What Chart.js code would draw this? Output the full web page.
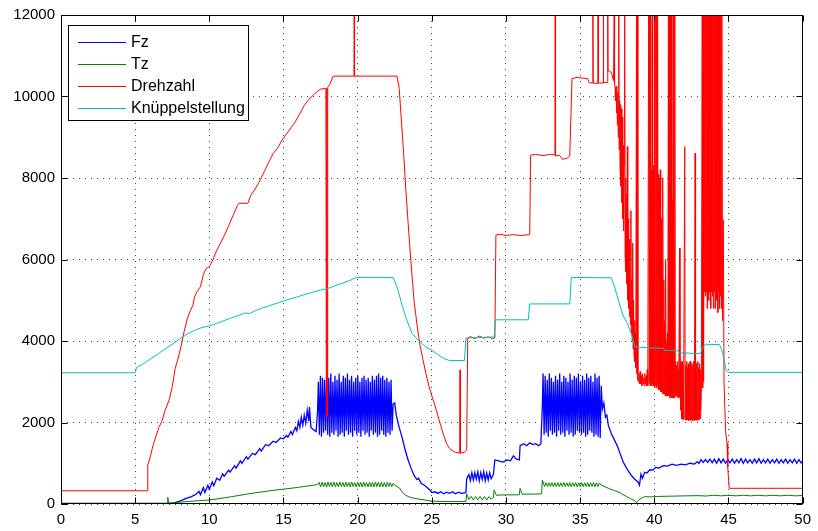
<!DOCTYPE html>
<html>
<head>
<meta charset="utf-8">
<script src="https://cdn.jsdelivr.net/npm/chart.js@4.4.1/dist/chart.umd.min.js"></script>
<style>
  html, body { margin: 0; padding: 0; background: #fff; }
  #chart { display: block; }
</style>
</head>
<body>
<canvas id="chart" width="818" height="531"></canvas>
<script>
// series, as [time, value] pairs
const seriesNames = ['Fz', 'Tz', 'Drehzahl', 'Knüppelstellung'];
const seriesColors = ['#0000ff', '#008000', '#ff0000', '#00bfbf'];
const xTicks = [0, 5, 10, 15, 20, 25, 30, 35, 40, 45, 50];
const yTicks = [0, 2000, 4000, 6000, 8000, 10000, 12000];

const fzPts = [
  [0,0],[7.2,0],[7.6,30],[8.0,70],[8.4,130],[8.8,180],[9.1,240],[9.3,310],[9.4,230],[9.6,400],[9.7,280],
  [9.9,460],[10.0,360],[10.2,540],[10.3,450],[10.5,630],[10.7,580],[10.9,740],[11.0,680],[11.3,830],[11.4,780],
  [11.7,940],[11.8,880],[12.1,1060],[12.2,1000],[12.5,1160],[12.6,1100],[12.9,1240],[13.1,1210],[13.4,1360],[13.5,1300],
  [13.8,1460],[14.0,1430],[14.3,1540],[14.5,1510],[14.8,1620],[15.0,1600],[15.2,1680],[15.3,1640],[15.5,1780],[15.6,1700],
  [15.8,1880],[15.9,1800],[16.0,2030],[16.1,1880],[16.2,2130],[16.3,1930],[16.4,2180],[16.5,1980],[16.6,2300],[16.7,2030],
  [16.75,2380],[16.85,1880],[17.0,1830],[17.2,1780],[17.3,2300],
  [17.35,3000],[17.42,1700],[17.49,3150],[17.56,1650],[17.63,3100],[17.70,1750],[17.77,3050],[17.84,1800],[17.91,3150],[17.98,1700],
  [18.05,3100],[18.12,1650],[18.19,3200],[18.26,1750],[18.33,3000],[18.40,1700],[18.47,3150],[18.54,1800],[18.61,3050],[18.68,1650],
  [18.75,3200],[18.82,1700],[18.89,3000],[18.96,1750],[19.03,3150],[19.10,1650],[19.17,3100],[19.24,1800],[19.31,3200],[19.38,1700],
  [19.45,3050],[19.52,1750],[19.59,3150],[19.66,1650],[19.73,3000],[19.80,1800],[19.87,3100],[19.94,1700],[20.01,3150],[20.08,1750],
  [20.15,3000],[20.22,1650],[20.29,3100],[20.36,1800],[20.43,3150],[20.50,1700],[20.57,3050],[20.64,1750],[20.71,3100],[20.78,1650],
  [20.85,3000],[20.92,1800],[20.99,3150],[21.06,1700],[21.13,3050],[21.20,1750],[21.27,3150],[21.34,1650],[21.41,3200],[21.48,1700],
  [21.55,3100],[21.62,1800],[21.69,3150],[21.76,1700],[21.83,3050],[21.90,1650],[21.97,3100],[22.04,1750],[22.11,3000],[22.18,1700],
  [22.25,3050],[22.32,1800],[22.39,2450],
  [22.5,2480],[22.6,2180],[22.8,1880],[23.0,1630],[23.2,1330],[23.4,1080],[23.6,880],[23.8,700],[24.0,600],[24.1,630],
  [24.3,500],[24.5,460],[24.7,400],[24.9,330],[25.0,280],[25.2,300],[25.4,260],[25.6,300],[25.8,250],[26.0,290],
  [26.2,260],[26.4,300],[26.6,250],[26.8,290],[27.0,260],[27.3,280],
  [27.35,620],[27.5,720],[27.6,570],[27.7,770],[27.8,590],[27.9,770],[28.0,610],[28.1,790],[28.2,570],[28.3,770],
  [28.4,600],[28.5,790],[28.6,570],[28.7,760],[28.8,590],[28.9,770],[29.0,620],[29.15,720],
  [29.25,1080],[29.5,1060],[29.8,1030],[30.1,1080],[30.3,1060],[30.5,1180],[30.7,1100],[30.9,1080],
  [30.95,1430],[31.2,1480],[31.4,1430],[31.6,1500],[31.8,1460],[32.0,1480],[32.2,1430],[32.35,1480],[32.45,2400],
  [32.5,3200],[32.57,1700],[32.64,3150],[32.71,1750],[32.78,3050],[32.85,1650],[32.92,3200],[32.99,1800],[33.06,3100],[33.13,1700],
  [33.20,3000],[33.27,1750],[33.34,3150],[33.41,1650],[33.48,3050],[33.55,1800],[33.62,3200],[33.69,1700],[33.76,3000],[33.83,1750],
  [33.90,3150],[33.97,1650],[34.04,3100],[34.11,1800],[34.18,3000],[34.25,1700],[34.32,3200],[34.39,1750],[34.46,3050],[34.53,1650],
  [34.60,3150],[34.67,1700],[34.74,3100],[34.81,1800],[34.88,3200],[34.95,1750],[35.02,3000],[35.09,1700],[35.16,3150],[35.23,1750],
  [35.30,3050],[35.37,1650],[35.44,3200],[35.51,1700],[35.58,3100],[35.65,1800],[35.72,3150],[35.79,1750],[35.86,3000],[35.93,1650],
  [36.00,3200],[36.07,1700],[36.14,3100],[36.21,1650],[36.28,3150],[36.35,1620],[36.42,2900],[36.5,2330],
  [36.6,2480],[36.7,2130],[36.8,2180],[36.9,1930],[37.1,1730],[37.3,1580],[37.5,1430],[37.7,1230],[37.9,1030],[38.1,900],
  [38.3,780],[38.5,680],[38.7,600],[38.9,540],[39.0,460],[39.1,730],[39.2,630],[39.35,780],[39.5,760],[39.7,840],
  [39.9,830],[40.1,900],[40.3,880],[40.6,940],[40.9,930],[41.2,980],[41.5,950],[41.8,980],[42.1,960],[42.4,1000],
  [42.7,980],[42.9,1040],[43.0,990],[43.15,1090],[43.3,1020],[43.45,1090],[43.6,1020],
  [43.75,1100],[43.9,1010],[44.05,1100],[44.2,1000],[44.35,1110],[44.5,1010],[44.65,1100],[44.8,1000],[44.95,1090],[45.1,1010],
  [45.25,1100],[45.4,1000],[45.55,1090],[45.7,1010],[45.85,1110],[46.0,1000],[46.15,1100],[46.3,1010],[46.45,1090],[46.6,1000],
  [46.75,1100],[46.9,1010],[47.05,1110],[47.2,1000],[47.35,1090],[47.5,1010],[47.65,1100],[47.8,1000],[47.95,1090],[48.1,1010],
  [48.25,1100],[48.4,1000],[48.55,1090],[48.7,1010],[48.85,1100],[49.0,1000],[49.15,1090],[49.3,1010],[49.45,1100],[49.6,1000],
  [49.75,1090],[49.9,1010],[50,1050]
];

const tzPts = [
  [0,20],[7.18,20],[7.2,165],[7.25,20],[7.5,30],[8.0,45],[8.5,60],[9.0,75],[9.5,85],[10.0,100],[10.5,125],[11.0,150],
  [11.5,180],[12.0,210],[12.5,240],[13.0,270],[13.5,295],[14.0,320],[14.5,345],[15.0,365],[15.5,385],[16.0,410],
  [16.5,435],[17.0,460],
  [17.3,480],[17.4,530],[17.5,420],[17.6,535],[17.7,425],[17.8,525],[17.9,415],[18.0,540],[18.1,430],[18.2,530],
  [18.3,420],[18.4,535],[18.5,425],[18.6,525],[18.7,420],[18.8,540],[18.9,430],[19.0,530],[19.1,420],[19.2,535],
  [19.3,425],[19.4,530],[19.5,420],[19.6,540],[19.7,430],[19.8,525],[19.9,420],[20.0,535],[20.1,425],[20.2,530],
  [20.3,420],[20.4,540],[20.5,430],[20.6,525],[20.7,420],[20.8,535],[20.9,425],[21.0,530],[21.1,420],[21.2,540],
  [21.3,430],[21.4,530],[21.5,420],[21.6,535],[21.7,425],[21.8,525],[21.9,420],[22.0,535],[22.1,430],[22.2,525],
  [22.3,425],[22.4,510],[22.5,460],
  [22.8,400],[23.0,300],[23.2,220],[23.5,170],[23.8,140],[24.2,115],[24.6,95],[25.0,70],[26.0,60],[27.3,60],
  [27.35,245],[27.5,110],[27.65,185],[27.8,100],[27.95,185],[28.1,100],[28.25,185],[28.4,100],[28.55,185],[28.7,100],
  [28.85,180],[29.0,120],[29.15,160],[29.2,345],[29.35,215],[30.0,225],[30.9,225],[30.95,385],[31.1,240],[32.0,245],
  [32.4,250],[32.45,590],[32.55,480],
  [32.6,430],[32.7,525],[32.8,425],[32.9,520],[33.0,430],[33.1,525],[33.2,425],[33.3,520],[33.4,430],[33.5,525],
  [33.6,425],[33.7,520],[33.8,430],[33.9,525],[34.0,425],[34.1,520],[34.2,430],[34.3,525],[34.4,425],[34.5,520],
  [34.6,430],[34.7,525],[34.8,425],[34.9,520],[35.0,430],[35.1,525],[35.2,425],[35.3,520],[35.4,430],[35.5,525],
  [35.6,425],[35.7,520],[35.8,430],[35.9,525],[36.0,425],[36.1,520],[36.2,430],[36.3,515],[36.4,470],
  [36.7,420],[37.0,370],[37.3,330],[37.55,300],[37.8,250],[38.1,190],[38.4,130],[38.67,80],[38.8,30],[39.0,120],
  [39.34,180],[39.8,175],[40.2,185],[40.8,190],[41.5,195],[42.2,200],[43.0,205],[43.5,195],[44.0,215],[44.5,200],
  [45.0,215],[45.5,200],[46.0,215],[46.5,200],[47.0,215],[47.5,200],[48.0,215],[48.5,200],[49.0,215],[49.5,200],[50,210]
];

const dzPts = [
  [0,325],[5.83,325],[5.85,960],[6.0,1130],[6.2,1430],[6.4,1660],[6.6,1880],[6.8,2030],[7.0,2280],[7.3,2560],
  [7.5,2880],[7.7,3330],[7.9,3580],[8.1,3880],[8.3,4230],[8.5,4530],[8.7,4730],[8.9,4880],[9.0,5080],[9.2,5230],
  [9.4,5330],[9.6,5630],[9.75,5760],[10.0,5830],[10.2,5960],[10.5,6230],[10.8,6430],[11.0,6580],[11.3,6830],[11.6,7080],
  [11.9,7330],[12.0,7380],[12.6,7380],[12.8,7580],[13.0,7680],[13.3,7860],[13.6,8080],[14.0,8380],[14.3,8600],[14.6,8730],
  [14.9,8930],[15.2,9080],[15.5,9230],[15.8,9380],[16.1,9580],[16.4,9780],[16.7,9930],[17.0,10030],[17.3,10130],[17.5,10180],
  [17.86,10200],[17.89,2140],[17.92,10200],[17.95,2140],[17.98,10230],[18.1,10280],[18.35,10500],[19.75,10500],[19.77,12500],
  [19.79,10500],[22.65,10500],
  [22.8,10200],[22.95,9400],[23.1,8600],[23.25,7700],[23.4,6900],[23.6,5900],[23.8,5000],[24.0,4400],[24.2,3900],[24.4,3550],
  [24.6,3200],[24.8,2900],[25.0,2650],[25.2,2430],[25.4,2180],[25.6,1930],[25.8,1680],[26.0,1480],[26.2,1360],[26.5,1280],
  [26.88,1245],[26.9,3290],[26.93,1250],[27.2,1270],[27.35,1330],[27.42,4070],[27.6,4110],[27.9,4060],[28.2,4120],[28.5,4070],
  [28.8,4100],[29.1,4060],[29.25,4080],[29.32,6600],[29.6,6620],[30.0,6590],[30.5,6610],[31.0,6590],[31.6,6610],[31.66,8560],
  [32.0,8580],[32.5,8550],[33.0,8580],[33.3,8570],[33.32,12500],[33.34,8540],[33.6,8560],[33.8,8460],[34.1,8480],[34.3,8540],
  [34.45,10440],[34.8,10470],[35.2,10450],[35.5,10440],[35.6,10340],[35.85,10330],[35.86,12500],[35.88,10330],[36.2,10320],
  [36.21,12500],[36.23,10330],[36.55,10330],[36.56,12500],[36.58,10350],[36.85,10340],[36.86,12500],[36.88,10640],[37.1,10590],
  [37.25,10390],
  // descending part with dense spikes
  [37.30,12500],[37.32,10300],[37.36,10200],[37.38,9900],[37.42,10250],[37.45,9600],[37.48,10200],[37.51,9300],[37.54,10100],
  [37.57,9000],[37.60,12500],[37.63,8700],[37.66,9900],[37.69,8200],[37.72,9800],[37.75,7800],[37.78,9700],[37.81,7400],
  [37.84,9500],[37.87,7000],[37.90,8800],[37.93,6700],[37.96,8300],[38.00,12500],[38.03,6100],[38.06,8000],[38.09,5700],
  [38.12,7600],[38.15,5400],[38.18,8770],[38.21,5000],[38.24,7000],[38.27,4800],[38.30,6500],[38.33,4600],[38.36,6000],
  [38.39,4400],[38.42,7200],[38.45,4200],[38.48,5500],[38.51,4000],[38.54,6400],[38.57,3800],[38.60,5000],[38.63,3650],
  [38.66,4500],[38.69,3500],[38.72,4200],[38.75,3350],[38.80,12500],[38.83,3200],[38.86,12500],[38.89,3050],
  // low plateau with full spikes
  [38.92,3000],[38.96,3200],[39.00,2950],[39.04,3250],[39.08,2950],[39.12,3150],[39.16,2900],[39.20,3200],[39.24,2950],
  [39.28,3100],[39.32,2900],[39.36,3200],[39.40,2950],[39.44,3150],[39.48,2900],[39.52,3300],[39.56,2900],[39.62,12500],
  [39.65,2950],[39.68,12500],[39.71,2900],[39.74,12500],[39.77,3000],[39.80,8200],[39.83,2900],[39.86,12500],[39.89,2950],
  [39.92,8300],[39.95,2900],[39.98,8100],[40.01,2850],[40.04,12500],[40.07,2900],[40.10,12500],[40.13,2850],[40.16,12500],
  [40.19,2900],[40.22,12500],[40.25,2850],[40.28,8100],[40.31,2800],[40.34,8000],[40.37,2800],[40.40,8200],[40.43,2750],
  [40.46,7000],[40.49,2750],[40.52,6000],[40.55,2700],[40.58,8000],[40.61,2700],[40.64,5500],[40.67,2700],[40.70,4500],
  [40.73,2650],[40.76,6000],[40.79,2650],[40.82,4000],[40.85,2650],[40.88,4200],[40.91,2650],[40.95,12500],[40.98,2650],
  [41.01,12500],[41.04,2600],[41.07,12500],[41.10,2650],[41.13,12500],[41.16,2600],[41.20,7450],[41.23,2600],[41.26,12500],
  [41.29,2600],[41.32,12500],[41.35,2600],[41.38,12500],[41.41,2650],
  // lower band
  [41.44,3500],[41.47,2650],[41.50,3400],[41.53,2630],[41.56,3500],[41.59,2620],[41.62,3300],[41.65,2620],[41.70,6280],
  [41.73,2600],[41.76,3500],[41.79,2300],[41.82,3450],[41.85,2100],[41.88,3500],[41.91,2080],[41.94,3400],[41.97,2070],
  [42.00,3450],[42.05,8770],[42.08,2070],[42.11,3400],[42.14,2060],[42.17,3500],[42.20,2060],[42.23,3350],[42.26,2060],
  [42.29,3450],[42.32,2050],[42.35,3400],[42.38,2060],[42.41,3500],[42.44,2050],[42.47,3350],[42.50,2060],[42.53,3450],
  [42.56,2050],[42.59,3400],[42.62,2060],[42.65,3500],[42.68,2050],[42.71,3350],[42.75,8610],[42.78,2060],[42.81,3450],
  [42.84,2050],[42.87,3400],[42.90,2060],[42.93,3500],[42.96,2060],[42.99,3350],[43.02,2080],[43.05,3450],[43.08,2100],
  [43.11,3300],[43.14,2300],[43.17,2800],
  // dense full spikes before the drop
  [43.20,2800],[43.23,12500],[43.26,2850],[43.29,12500],[43.32,3000],[43.35,12500],[43.38,5200],[43.41,12500],[43.44,5100],
  [43.47,12500],[43.50,5200],[43.53,12500],[43.56,4800],[43.59,12500],[43.62,5200],[43.65,12500],[43.68,5000],[43.71,12500],
  [43.74,5200],[43.77,12500],[43.80,4800],[43.83,12500],[43.86,5200],[43.89,12500],[43.92,5100],[43.95,12500],[43.98,4800],
  [44.01,12500],[44.04,5200],[44.07,12500],[44.10,4800],[44.13,12500],[44.16,5200],[44.19,12500],[44.22,5000],[44.25,12500],
  [44.28,4700],[44.31,12500],[44.34,5200],[44.37,12500],[44.40,4800],[44.43,12500],[44.46,5100],[44.49,12500],[44.52,4800],
  [44.55,12500],[44.60,4500],[44.65,6970],[44.70,3000],[44.8,1800],[44.9,1500],[44.95,900],[45.05,385],[50,385]
];

const knPts = [
  [0,3220],[5.0,3220],[5.1,3350],[5.5,3430],[6.0,3550],[6.5,3670],[7.0,3800],[7.5,3920],[8.0,4050],[8.5,4170],
  [9.0,4260],[9.5,4330],[10.0,4370],[10.5,4430],[11.0,4500],[11.5,4570],[12.0,4630],[12.4,4690],[12.7,4670],[13.0,4730],
  [13.5,4800],[14.0,4860],[14.5,4920],[15.0,4980],[15.5,5040],[16.0,5090],[16.5,5150],[17.0,5200],[17.5,5250],[18.0,5290],
  [18.5,5360],[19.0,5420],[19.5,5490],[19.9,5560],[22.4,5560],[22.7,5270],[23.0,4870],[23.3,4520],[23.65,4200],[24.0,4050],
  [24.3,3950],[24.6,3850],[25.0,3770],[25.4,3670],[25.8,3570],[26.2,3520],[27.2,3520],[27.3,4070],[29.2,4100],[29.3,4520],
  [31.5,4520],[31.6,4910],[34.3,4910],[34.4,5560],[37.1,5550],[37.3,5350],[37.6,4970],[37.9,4620],[38.2,4420],[38.5,4120],
  [38.7,3850],[40.6,3820],[40.7,3770],[41.6,3760],[41.7,3710],[43.1,3690],[43.3,3870],[43.5,3920],[44.4,3910],[44.6,3720],
  [44.85,3270],[45,3230],[50,3230]
];

const allPts = [fzPts, tzPts, dzPts, knPts];
const lineWidths = [1.3, 1, 1, 1];

Chart.defaults.font.family = "'Liberation Sans', Arial, sans-serif";
Chart.defaults.color = '#000';

const datasets = allPts.map((pts, i) => ({
  label: seriesNames[i],
  data: pts.map(p => ({ x: p[0], y: p[1] })),
  borderColor: seriesColors[i],
  borderWidth: lineWidths[i],
  pointRadius: 0,
  tension: 0,
  fill: false,
  order: 3 - i
}));

// frame with inward ticks, plus the boxed legend in the upper left
const framePlugin = {
  id: 'frame',
  afterDraw(chart) {
    const { ctx, chartArea: a, scales } = chart;
    const l = Math.round(a.left) + 0.5, r = Math.round(a.right) - 0.5;
    const t = Math.round(a.top) + 0.5, b = Math.round(a.bottom) - 0.5;
    ctx.save();
    ctx.strokeStyle = '#000';
    ctx.lineWidth = 1;
    ctx.setLineDash([]);
    ctx.strokeRect(l, t, r - l, b - t);
    ctx.beginPath();
    xTicks.forEach(v => {
      const px = Math.round(scales.x.getPixelForValue(v)) + 0.5;
      ctx.moveTo(px, b); ctx.lineTo(px, b - 6);
      ctx.moveTo(px, t); ctx.lineTo(px, t + 6);
    });
    yTicks.forEach(v => {
      const py = Math.round(scales.y.getPixelForValue(v)) + 0.5;
      ctx.moveTo(l, py); ctx.lineTo(l + 6, py);
      ctx.moveTo(r, py); ctx.lineTo(r - 6, py);
    });
    ctx.stroke();

    // legend
    const lx = 68.5, ly = 25.5, lw = 180, lh = 95;
    ctx.fillStyle = '#fff';
    ctx.fillRect(lx, ly, lw, lh);
    ctx.strokeRect(lx, ly, lw, lh);
    ctx.font = "16px 'Liberation Sans', Arial, sans-serif";
    ctx.textBaseline = 'middle';
    ctx.textAlign = 'left';
    seriesNames.forEach((name, i) => {
      const yy = 42 + i * 21.9;
      ctx.strokeStyle = seriesColors[i];
      ctx.beginPath();
      ctx.moveTo(78, Math.round(yy) + 0.5);
      ctx.lineTo(126, Math.round(yy) + 0.5);
      ctx.stroke();
      ctx.fillStyle = '#000';
      ctx.fillText(name, 131, yy + 1);
    });
    ctx.restore();
  }
};

new Chart(document.getElementById('chart'), {
  type: 'line',
  data: { datasets: datasets },
  options: {
    responsive: false,
    animation: false,
    events: [],
    layout: { padding: { top: 15, right: 12, left: 0, bottom: 0 } },
    plugins: { legend: { display: false }, tooltip: { enabled: false } },
    scales: {
      x: {
        type: 'linear',
        min: 0, max: 50,
        afterFit: s => { s.height = 27; },
        afterBuildTicks: s => { s.ticks = xTicks.map(v => ({ value: v })); },
        ticks: { font: { size: 15 }, padding: 7, maxRotation: 0, color: '#000', callback: v => String(v) },
        grid: { color: '#444', lineWidth: 1, drawTicks: false },
        border: { display: false, dash: [1, 5] }
      },
      y: {
        min: 0, max: 12000,
        afterFit: s => { s.width = 61; },
        afterBuildTicks: s => { s.ticks = yTicks.map(v => ({ value: v })); },
        ticks: { font: { size: 15 }, padding: 6, color: '#000', callback: v => String(v) },
        grid: { color: '#444', lineWidth: 1, drawTicks: false },
        border: { display: false, dash: [1, 5] }
      }
    }
  },
  plugins: [framePlugin]
});
</script>
</body>
</html>
